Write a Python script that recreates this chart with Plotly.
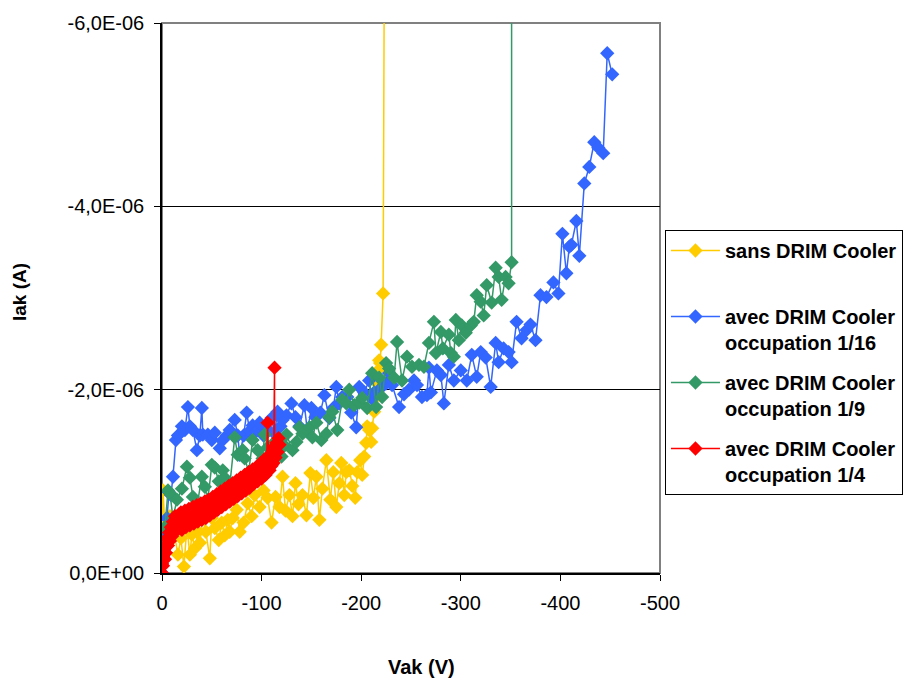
import plotly.graph_objects as go

# ---- data (Vak in V, Iak in µA; both negative) ----
vak_sans = [0, -1, -3, -5, -8, -12, -16, -19, -22, -25, -28, -30, -33, -36, -38, -41, -44, -48, -50, -53,
            -57, -60, -63, -66, -68, -71, -75, -78, -82, -86, -90, -93, -98, -102, -106, -110, -114, -118,
            -121, -124, -128, -131, -134, -137, -141, -145, -149, -152, -155, -158, -161, -165, -169, -172,
            -175, -178, -180, -183, -185, -188, -191, -194, -196, -199, -201, -203, -205, -206, -208, -210,
            -211, -213, -215, -216, -217, -218, -219, -220, -222, -224]
iak_sans = [-0.25, -0.9, -0.5, -0.35, -0.62, -0.45, -0.2, -0.38, -0.07, -0.5, -0.2, -0.42, -0.27, -0.45,
            -0.33, -0.6, -0.45, -0.16, -0.6, -0.49, -0.36, -0.55, -0.41, -0.58, -0.45, -0.6, -0.69, -0.45,
            -0.55, -0.76, -0.62, -0.85, -0.72, -0.9, -0.82, -0.55, -0.83, -0.72, -1.05, -0.68, -0.85, -0.62,
            -0.98, -0.75, -0.85, -0.63, -1.09, -0.82, -1.05, -0.58, -0.92, -1.23, -0.8, -1.1, -0.72, -0.98,
            -1.2, -0.85, -1.1, -1.12, -0.95, -0.82, -1.1, -1.23, -1.07, -1.27, -1.42, -1.6, -1.56, -1.43,
            -1.58, -1.76, -1.92, -2.07, -2.21, -2.32, -2.29, -2.49, -3.05, -9.0]

vak_16 = [0, -1, -3, -5, -7, -9, -11, -14, -16, -20, -23, -26, -28, -31, -35, -38, -40, -41, -46, -50,
          -53, -58, -61, -65, -68, -73, -76, -78, -82, -85, -88, -91, -95, -98, -102, -105, -110, -113,
          -116, -119, -121, -125, -130, -134, -138, -143, -146, -150, -154, -159, -163, -168, -172, -175,
          -178, -181, -186, -190, -195, -198, -203, -208, -211, -213, -218, -225, -228, -231, -238, -243,
          -248, -253, -256, -261, -266, -268, -270, -276, -280, -283, -288, -293, -300, -306, -311, -316,
          -320, -325, -330, -335, -338, -343, -348, -351, -356, -361, -366, -370, -375, -380, -386, -393,
          -398, -402, -406, -409, -411, -416, -419, -424, -429, -434, -438, -443, -447, -452]
iak_16 = [0.0, -0.2, -0.44, -0.6, -0.88, -0.85, -1.05, -1.45, -1.5, -1.6, -1.56, -1.81, -1.6, -1.56,
          -1.34, -1.5, -1.8, -1.51, -1.51, -1.45, -1.53, -1.36, -1.45, -1.5, -1.56, -1.67, -1.5, -1.29,
          -1.5, -1.75, -1.55, -1.61, -1.55, -1.64, -1.5, -1.58, -1.69, -1.52, -1.76, -1.6, -1.67, -1.72,
          -1.85, -1.7, -1.6, -1.83, -1.54, -1.8, -1.7, -1.75, -1.94, -1.69, -1.8, -2.03, -1.85, -1.92,
          -1.92, -1.75, -1.59, -2.03, -1.97, -2.1, -1.9, -1.97, -2.0, -2.07, -2.18, -2.05, -1.81, -1.95,
          -2.0, -2.1, -2.05, -1.92, -1.94, -2.24, -1.97, -2.21, -2.16, -1.85, -2.27, -2.1, -2.21, -2.1,
          -2.38, -2.14, -2.41, -2.35, -2.03, -2.51, -2.3, -2.45, -2.41, -2.3, -2.74, -2.56, -2.65, -2.71,
          -2.54, -3.03, -3.01, -3.17, -3.05, -3.7, -3.27, -3.56, -3.58, -3.84, -3.46, -4.25, -4.43, -4.7,
          -4.64, -4.58, -5.67, -5.44]

vak_9 = [0, -3, -6, -8, -11, -15, -20, -25, -28, -31, -35, -40, -43, -46, -50, -53, -57, -61, -63, -68,
         -73, -76, -81, -83, -87, -91, -96, -101, -103, -106, -110, -113, -117, -120, -123, -125, -131,
         -135, -138, -141, -148, -151, -155, -160, -165, -168, -171, -176, -181, -185, -188, -193, -198,
         -201, -206, -211, -215, -218, -221, -225, -228, -233, -236, -241, -246, -251, -258, -263, -268,
         -273, -275, -280, -282, -288, -290, -293, -295, -298, -301, -305, -310, -313, -316, -320, -323,
         -326, -331, -335, -338, -341, -345, -348, -351, -351]
iak_9 = [-0.25, -0.5, -0.9, -0.87, -0.6, -0.8, -0.92, -1.16, -1.04, -0.83, -0.72, -1.05, -0.94, -0.8,
         -1.18, -1.15, -1.0, -1.12, -1.04, -0.95, -1.48, -1.29, -1.34, -1.25, -1.1, -1.45, -1.34, -1.25,
         -1.51, -1.37, -1.22, -1.43, -1.3, -1.27, -1.39, -1.51, -1.34, -1.43, -1.59, -1.52, -1.59, -1.48,
         -1.64, -1.45, -1.52, -1.7, -1.76, -1.56, -1.89, -1.85, -2.0, -1.83, -1.86, -1.91, -1.8, -2.18,
         -1.81, -2.13, -1.92, -2.29, -2.23, -2.13, -2.52, -2.1, -2.36, -2.25, -2.27, -2.25, -2.51, -2.74,
         -2.4, -2.63, -2.45, -2.6, -2.4, -2.36, -2.76, -2.54, -2.7, -2.62, -2.7, -2.74, -3.03, -2.96,
         -2.81, -3.14, -2.95, -3.33, -3.23, -2.98, -3.23, -3.16, -3.39, -9.0]

vak_4 = [0, 0, -1, -1, -2, -3, -3, -4,
         -5, -6, -7, -8, -9, -10, -11, -12, -13, -14,
         -15, -16, -17, -18, -19, -20, -21, -22, -23, -24,
         -25, -26, -27, -28, -29, -30, -31, -32, -33, -34,
         -35, -36, -37, -38, -39, -40, -41, -42, -43, -44,
         -45, -46, -47, -48, -49, -50, -51, -52, -53, -54,
         -55, -56, -57, -58, -59, -60, -61, -62, -63, -64,
         -65, -66, -67, -68, -69, -70, -71, -72, -73, -74,
         -75, -76, -77, -78, -79, -80, -81, -82, -83, -84,
         -85, -86, -87, -88, -89, -90, -91, -92, -93, -94,
         -95, -96, -97, -98, -99, -100, -101, -102, -103, -104,
         -105, -106, -107, -108, -109, -110, -111, -112,
         -113, -113, -114, -115, -116, -117, -118]
iak_4 = [0.0, -0.1, -0.18, -0.08, -0.25, -0.15, -0.3, -0.22,
         -0.38, -0.3, -0.44, -0.35, -0.5, -0.4, -0.56, -0.45, -0.62, -0.46,
         -0.6, -0.48, -0.64, -0.5, -0.66, -0.47, -0.62, -0.52, -0.68, -0.5,
         -0.64, -0.55, -0.7, -0.52, -0.66, -0.56, -0.72, -0.54, -0.68, -0.58,
         -0.74, -0.56, -0.7, -0.6, -0.76, -0.58, -0.72, -0.62, -0.78, -0.6,
         -0.74, -0.64, -0.8, -0.63, -0.77, -0.67, -0.83, -0.66, -0.8, -0.7,
         -0.86, -0.69, -0.83, -0.73, -0.89, -0.72, -0.86, -0.76, -0.92, -0.75,
         -0.89, -0.79, -0.95, -0.78, -0.92, -0.82, -0.98, -0.81, -0.95, -0.85,
         -1.01, -0.84, -0.98, -0.88, -1.04, -0.87, -1.01, -0.91, -1.07, -0.9,
         -1.04, -0.94, -1.1, -0.93, -1.07, -0.97, -1.13, -0.97, -1.1, -1.0,
         -1.16, -1.0, -1.13, -1.04, -1.2, -1.03, -1.17, -1.08, -1.24, -1.07,
         -1.21, -1.64, -1.28, -1.12, -1.26, -1.17, -1.33, -1.2,
         -2.24, -1.38, -1.26, -1.42, -1.32, -1.47, -1.4]

series_names = ["sans DRIM Cooler<br>&nbsp;",
                "avec DRIM Cooler<br>occupation 1/16",
                "avec DRIM Cooler<br>occupation 1/9",
                "avec DRIM Cooler<br>occupation 1/4"]
series_colors = ["#FFCC00", "#3366FF", "#339966", "#FF0000"]

x_tickvals = [0, -100, -200, -300, -400, -500]
x_ticktext = ["0", "-100", "-200", "-300", "-400", "-500"]
y_tickvals = [0, -2, -4, -6]
y_ticktext = ["0,0E+00", "-2,0E-06", "-4,0E-06", "-6,0E-06"]
x_title = "Vak (V)"
y_title = "Iak (A)"

FONT = "Arial, 'Liberation Sans', sans-serif"

fig = go.Figure()
for i, (xs, ys) in enumerate([(vak_sans, iak_sans), (vak_16, iak_16), (vak_9, iak_9), (vak_4, iak_4)]):
    fig.add_trace(go.Scatter(
        x=xs, y=ys, mode="lines+markers", name=series_names[i],
        legendgroup=f"g{i}",
        line=dict(color=series_colors[i], width=1.5),
        marker=dict(symbol="diamond", size=11, color=series_colors[i], line=dict(width=0)),
    ))

# the page body has an 8px margin, so the figure is sized/positioned to compensate
fig.update_layout(
    width=905, height=672,
    margin=dict(l=154, r=253, t=15, b=107, autoexpand=False),
    paper_bgcolor="white", plot_bgcolor="white",
    font=dict(family=FONT, size=18, color="black"),
    showlegend=True,
    legend=dict(x=1.01, y=0.6236, xanchor="left", yanchor="top",
                bordercolor="black", borderwidth=1, bgcolor="white",
                font=dict(family=FONT, size=20, color="black", weight="bold"),
                valign="top", tracegroupgap=11, itemwidth=49),
    xaxis=dict(range=[0, -500], tickvals=x_tickvals, ticktext=x_ticktext,
               showgrid=False, zeroline=False, showline=True, linecolor="black", linewidth=1.5,
               ticks="outside", ticklen=6, tickcolor="black", tickfont=dict(size=20),
               ticklabelstandoff=5),
    yaxis=dict(range=[0, -6], tickvals=y_tickvals, ticktext=y_ticktext,
               showgrid=True, gridcolor="black", gridwidth=1, zeroline=False,
               showline=True, linecolor="black", linewidth=1.5,
               ticks="outside", ticklen=6, tickcolor="black", tickfont=dict(size=20),
               ticklabelstandoff=6),
    annotations=[
        dict(text=f"<b>{x_title}</b>", xref="paper", yref="paper", x=0.521, y=-0.171,
             xanchor="center", yanchor="middle", showarrow=False, font=dict(size=20)),
        dict(text=f"<b>{y_title}</b>", xref="paper", yref="paper", x=-0.285, y=0.511,
             xanchor="center", yanchor="middle", showarrow=False, textangle=-90,
             font=dict(size=19)),
    ],
    shapes=[dict(type="rect", xref="paper", yref="paper", x0=0, x1=1, y0=0, y1=1,
                 line=dict(color="#808080", width=2), layer="between")],
)

fig.write_html("out.html")
